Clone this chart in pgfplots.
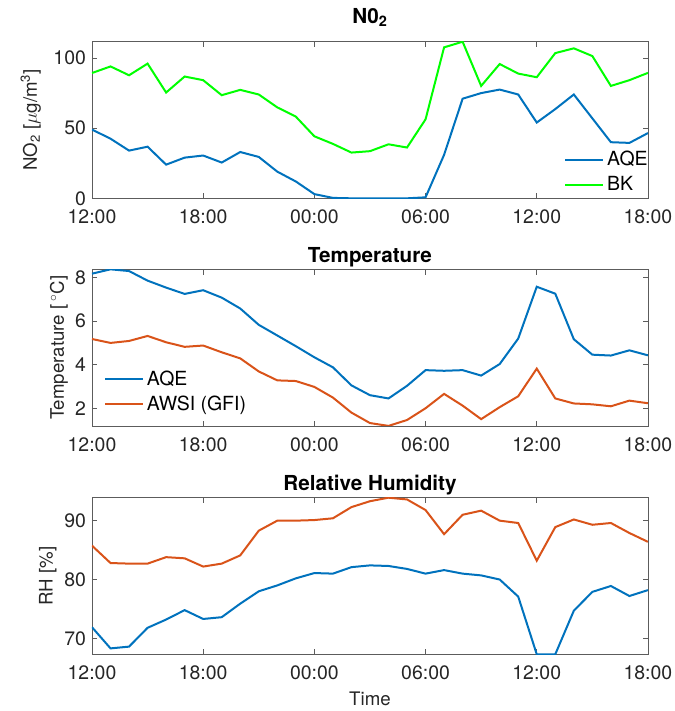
\documentclass[border=0pt]{standalone}
\usepackage{fontspec}
\setmainfont{TeX Gyre Heros}
\usepackage{pgfplots}
\pgfplotsset{compat=1.18}
\definecolor{mblue}{RGB}{0,114,189}
\definecolor{morange}{RGB}{217,83,25}
\definecolor{mgreen}{RGB}{0,255,0}
\definecolor{axgray}{RGB}{38,38,38}
\pgfplotsset{
  mystyle/.style={
    scale only axis, width=417pt, height=117.45pt,
    anchor=north west,
    xmin=0, xmax=30, xtick={0,6,...,30},
    xticklabels={12:00,18:00,00:00,06:00,12:00,18:00},
    tick align=inside, major tick length=4pt,
    xtick pos=both, ytick pos=both,
    axis line style={axgray!75, line width=0.5pt},
    every tick/.style={axgray!75, line width=0.5pt},
    /pgf/number format/assume math mode=true,
    tick label style={font=\fontsize{14.6}{16}\selectfont, text=axgray},
    xticklabel style={anchor=base, yshift=-19pt},
    yticklabel style={anchor=east, xshift=-1pt},
    label style={font=\fontsize{14}{16}\selectfont, text=axgray},
    title style={font=\bfseries\fontsize{15.5}{17}\selectfont, anchor=base, at={(axis description cs:0.5,1)}, yshift=-0.7pt},
    legend style={draw=none, fill=none, font=\fontsize{14.6}{16}\selectfont, text=black, row sep=2.4pt},
    legend image code/.code={\draw[##1,line width=1.5pt] (0pt,0pt) -- (28.5pt,0pt);},
    legend cell align=left,
    every axis plot/.append style={line width=1.5pt, no markers},
  }
}
\begin{document}
\begin{tikzpicture}
\useasboundingbox (-69pt,31.3pt) rectangle (437.25pt,-502pt);
% ---------------- NO2 ----------------
\begin{axis}[mystyle, at={(0pt,0pt)},
  ymin=0, ymax=111.6, ytick={0,50,100},
  title={N0\textsubscript{2}}, title style={yshift=8.7pt},
  ylabel={NO\textsubscript{2} [$\mu$g/m\textsuperscript{3}]},
  ylabel style={at={(axis description cs:-0.110,0.5)}, anchor=center},
  legend style={at={(axis description cs:1,0)}, anchor=south east, xshift=5pt, yshift=0pt},
]
\addplot[mblue] coordinates {
(0,49) (1,42.5) (2,34) (3,36.8) (4,24) (5,29) (6,30.5) (7,25.5) (8,33) (9,29.5)
(10,19) (11,12) (12,3) (13,0.3) (14,0) (15,0) (16,0) (17,0) (18,0.7) (19,31)
(20,71) (21,75) (22,77.5) (23,74) (24,54) (25,63.6) (26,74) (27,57) (28,40) (29,39.5) (30,46.5)};
\addlegendentry{AQE}
\addplot[mgreen] coordinates {
(0,89.3) (1,94) (2,87.7) (3,96) (4,75.4) (5,86.8) (6,84.2) (7,73.5) (8,77.3) (9,74)
(10,64.8) (11,58.2) (12,44.2) (13,38.8) (14,32.6) (15,33.6) (16,38.5) (17,36.2) (18,56.3) (19,107.6)
(20,111.6) (21,80.1) (22,95.7) (23,88.9) (24,86.3) (25,103.5) (26,106.9) (27,101.4) (28,80.1) (29,84.2) (30,89.4)};
\addlegendentry{BK}
\end{axis}
% ---------------- Temperature ----------------
\begin{axis}[mystyle, at={(0pt,-170.7pt)},
  ymin=1.19, ymax=8.38, ytick={2,4,6,8},
  title={Temperature},
  ylabel={Temperature [\,$^{\circ}$C]},
  ylabel style={at={(axis description cs:-0.0594,0.5)}, anchor=center},
  legend style={at={(axis description cs:0,0)}, anchor=south west, xshift=6pt, yshift=6pt},
]
\addplot[mblue] coordinates {
(0,8.18) (1,8.38) (2,8.3) (3,7.86) (4,7.54) (5,7.25) (6,7.42) (7,7.08) (8,6.58) (9,5.83)
(10,5.34) (11,4.85) (12,4.34) (13,3.88) (14,3.05) (15,2.6) (16,2.45) (17,3.03) (18,3.75) (19,3.72)
(20,3.75) (21,3.5) (22,4.03) (23,5.2) (24,7.58) (25,7.26) (26,5.17) (27,4.46) (28,4.42) (29,4.66) (30,4.43)};
\addlegendentry{AQE}
\addplot[morange] coordinates {
(0,5.18) (1,5.0) (2,5.09) (3,5.32) (4,5.03) (5,4.82) (6,4.88) (7,4.57) (8,4.29) (9,3.69)
(10,3.28) (11,3.25) (12,2.98) (13,2.49) (14,1.8) (15,1.32) (16,1.19) (17,1.46) (18,2.0) (19,2.66)
(20,2.12) (21,1.5) (22,2.05) (23,2.55) (24,3.82) (25,2.45) (26,2.22) (27,2.18) (28,2.09) (29,2.35) (30,2.23)};
\addlegendentry{AWSI (GFI)}
\end{axis}
% ---------------- Relative Humidity ----------------
\begin{axis}[mystyle, at={(0pt,-342pt)},
  ymin=67.3, ymax=93.9, ytick={70,80,90},
  title={Relative Humidity},
  ylabel={RH [\%]},
  ylabel style={at={(axis description cs:-0.0795,0.5)}, anchor=center},
  xlabel={Time},
  xlabel style={at={(axis description cs:0.5,0)}, anchor=base, yshift=-38.25pt},
]
\addplot[mblue] coordinates {
(0,71.9) (1,68.3) (2,68.6) (3,71.8) (4,73.2) (5,74.8) (6,73.3) (7,73.6) (8,75.9) (9,78.0)
(10,79.0) (11,80.2) (12,81.1) (13,81.0) (14,82.1) (15,82.4) (16,82.3) (17,81.8) (18,81.0) (19,81.6)
(20,81.0) (21,80.7) (22,80.0) (23,77.1) (24,67.3) (25,67.3) (26,74.7) (27,77.9) (28,78.9) (29,77.2) (30,78.2)};
\addplot[morange] coordinates {
(0,85.75) (1,82.8) (2,82.7) (3,82.7) (4,83.8) (5,83.6) (6,82.2) (7,82.7) (8,84.1) (9,88.3)
(10,90.0) (11,90.0) (12,90.1) (13,90.4) (14,92.3) (15,93.3) (16,93.9) (17,93.6) (18,91.8) (19,87.7)
(20,91.0) (21,91.7) (22,90.0) (23,89.6) (24,83.2) (25,88.9) (26,90.2) (27,89.3) (28,89.6) (29,87.9) (30,86.4)};
\end{axis}
\end{tikzpicture}
\end{document}
